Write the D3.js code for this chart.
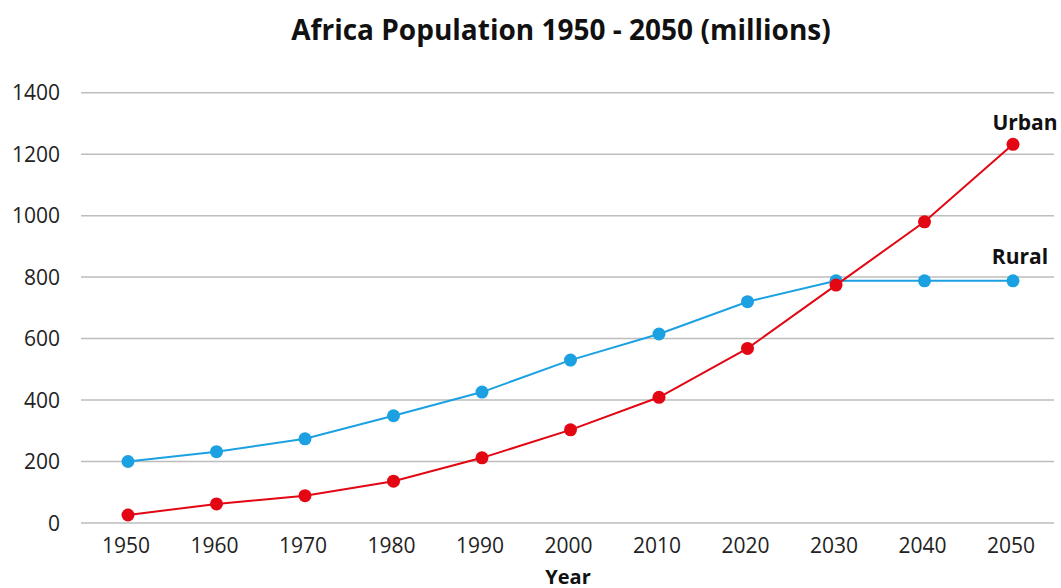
<!DOCTYPE html>
<html>
<head>
<meta charset="utf-8">
<script src="https://d3js.org/d3.v7.min.js"></script>
<style>
	body { margin: 0; background: #fff; }
	text { font-family: 'Open Sans', 'Noto Sans', sans-serif; fill: #222; }
</style>
</head>
<body>
<div id="chart"></div>
<script>
	// Data
	const years = [1950, 1960, 1970, 1980, 1990, 2000, 2010, 2020, 2030, 2040, 2050];
	const rural = [200, 232, 274, 349, 426, 530, 615, 720, 788, 788, 788];
	const urban = [26, 62, 89, 136, 212, 303, 409, 568, 774, 980, 1232];
	const yTicks = [0, 200, 400, 600, 800, 1000, 1200, 1400];

	const width = 1061;
	const height = 588;

	const svg = d3
		.select('#chart')
		.append('svg')
		.attr('width', width)
		.attr('height', height);

	// Scales
	const x = d3.scalePoint().domain(years).range([128, 1013]);
	const y = d3.scaleLinear().domain([0, 1400]).range([523, 92.7]);

	// Gridlines
	svg.append('g')
		.selectAll('line')
		.data(yTicks)
		.enter()
		.append('line')
		.attr('x1', 81)
		.attr('x2', 1054)
		.attr('y1', (d) => y(d))
		.attr('y2', (d) => y(d))
		.attr('stroke', '#bdbdbd')
		.attr('stroke-width', 1.5);

	// Y tick labels
	svg.append('g')
		.selectAll('text')
		.data(yTicks)
		.enter()
		.append('text')
		.attr('x', 60)
		.attr('y', (d) => y(d))
		.attr('dy', '0.36em')
		.attr('text-anchor', 'end')
		.style('font-size', '21px')
		.text((d) => d);

	// X tick labels
	svg.append('g')
		.selectAll('text')
		.data(years)
		.enter()
		.append('text')
		.attr('x', (d) => x(d) - 2)
		.attr('y', 545.5)
		.attr('dy', '0.36em')
		.attr('text-anchor', 'middle')
		.style('font-size', '21px')
		.text((d) => d);

	const series = [
		{ name: 'Rural', values: rural, color: '#1ba1e2' },
		{ name: 'Urban', values: urban, color: '#e30613' },
	];

	const line = d3
		.line()
		.x((d, i) => x(years[i]))
		.y((d) => y(d));

	series.forEach((s) => {
		svg.append('path')
			.datum(s.values)
			.attr('d', line)
			.attr('fill', 'none')
			.attr('stroke', s.color)
			.attr('stroke-width', 2);

		svg.append('g')
			.selectAll('circle')
			.data(s.values)
			.enter()
			.append('circle')
			.attr('cx', (d, i) => x(years[i]))
			.attr('cy', (d) => y(d))
			.attr('r', 6.5)
			.attr('fill', s.color);
	});

	// Series labels at the end of each line
	svg.append('text')
		.attr('x', 1025)
		.attr('y', y(urban[urban.length - 1]) - 14)
		.attr('text-anchor', 'middle')
		.style('font-size', '21px')
		.style('font-weight', 'bold')
		.style('fill', '#111')
		.text('Urban');

	svg.append('text')
		.attr('x', 1020)
		.attr('y', y(rural[rural.length - 1]) - 17)
		.attr('text-anchor', 'middle')
		.style('font-size', '21px')
		.style('font-weight', 'bold')
		.style('fill', '#111')
		.text('Rural');

	// Axis title
	svg.append('text')
		.attr('x', 568)
		.attr('y', 584)
		.attr('text-anchor', 'middle')
		.style('font-size', '20px')
		.style('font-weight', 'bold')
		.style('fill', '#111')
		.text('Year');

	// Chart title
	svg.append('text')
		.attr('x', 561)
		.attr('y', 40)
		.attr('text-anchor', 'middle')
		.style('font-size', '28px')
		.style('font-weight', 'bold')
		.style('fill', '#111')
		.text('Africa Population 1950 - 2050 (millions)');
</script>
</body>
</html>
